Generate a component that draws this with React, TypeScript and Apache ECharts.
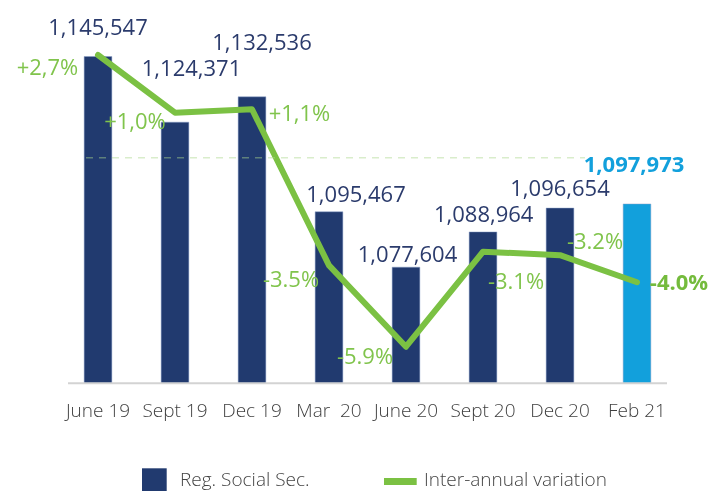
import React, { useEffect, useRef } from "react";
import * as echarts from "echarts";

const categories = ["June 19", "Sept 19", "Dec 19", "Mar  20", "June 20", "Sept 20", "Dec 20", "Feb 21"];
const registered = [1145547, 1124371, 1132536, 1095467, 1077604, 1088964, 1096654, 1097973];
const variation = [2.7, 1.0, 1.1, -3.5, -5.9, -3.1, -3.2, -4.0];
const variationLabels = ["+2,7%", "+1,0%", "+1,1%", "-3.5%", "-5.9%", "-3.1%", "-3.2%", "-4.0%"];
const seriesNames = ["Reg. Social Sec.", "Inter-annual variation"];

// layout only (label offsets in px)
const barLabelOffsets = [[0, -30], [16.5, -54.5], [10, -55], [27, -18], [1.5, -14], [0.7, -18.7], [0, -20.7], [-3, -41]];
const lineLabelOffsets = [[-50.5, 11], [-40, 7.5], [47.5, 3], [-38, 13], [-41, 8], [33, 28], [35, -15], [42, -1]];

const NAVY = "#213a6f";
const BLUE = "#12a0dc";
const GREEN = "#7bc143";
const FONT = "'Open Sans', sans-serif";

export default function App() {
  const ref = useRef<HTMLDivElement>(null);
  useEffect(() => {
    if (!ref.current) return;
    const chart = echarts.init(ref.current, undefined, { renderer: "svg" });
    const last = registered.length - 1;
    chart.setOption({
      animation: false,
      textStyle: { fontFamily: FONT },
      grid: { left: 59.5, width: 616, top: 42.3, height: 341, containLabel: false },
      xAxis: {
        type: "category",
        data: categories,
        axisLine: { show: false },
        axisTick: { show: false },
        axisLabel: { color: "#3f3f3f", fontSize: 19, fontWeight: 300, fontFamily: FONT, margin: 17, interval: 0 },
      },
      yAxis: [
        { type: "value", min: 1040000, max: 1150000, show: false },
        { type: "value", min: -6.978, max: 3.075, show: false },
      ],
      series: [
        {
          name: seriesNames[0],
          type: "bar",
          barWidth: 28.5,
          data: registered.map((v, i) => ({
            value: v,
            itemStyle: { color: i === last ? BLUE : NAVY },
            label: {
              offset: barLabelOffsets[i],
              color: i === last ? BLUE : "#2b3b6c",
              fontWeight: i === last ? "bold" : 400,
            },
          })),
          itemStyle: { borderColor: "rgba(140,160,200,0.6)", borderWidth: 0.8 },
          label: {
            show: true,
            position: "top",
            distance: 0,
            verticalAlign: "middle",
            align: "center",
            fontSize: 22,
            fontFamily: FONT,
            formatter: (p: any) => Number(p.value).toLocaleString("en-US"),
          },
        },
        {
          name: seriesNames[1],
          type: "line",
          yAxisIndex: 1,
          z: 5,
          symbol: "circle",
          symbolSize: 1,
          showSymbol: true,
          itemStyle: { color: GREEN },
          lineStyle: { color: GREEN, width: 6, cap: "round", join: "round" },
          data: variation.map((v, i) => ({
            value: v,
            label: {
              offset: lineLabelOffsets[i],
              fontWeight: i === last ? "bold" : 400,
              color: i === last ? "#74bb3c" : "#80c44c",
            },
          })),
          label: {
            show: true,
            position: "inside",
            align: "center",
            verticalAlign: "middle",
            fontSize: 22,
            fontFamily: FONT,
            formatter: (p: any) => variationLabels[p.dataIndex],
          },
        },
      ],
      graphic: [
        {
          type: "line",
          shape: { x1: 68, y1: 383.3, x2: 667, y2: 383.3 },
          style: { stroke: "#d3d3d3", lineWidth: 2 },
          z: 10,
        },
        {
          type: "line",
          shape: { x1: 86, y1: 157.7, x2: 585, y2: 157.7 },
          style: { stroke: "rgba(170,215,140,0.45)", lineWidth: 1.5, lineDash: [7, 6] },
          z: 10,
        },
        {
          type: "rect",
          shape: { x: 142, y: 468.3, width: 24.7, height: 24 },
          style: { fill: NAVY },
        },
        {
          type: "text",
          x: 180,
          y: 478.5,
          style: { text: seriesNames[0], fill: "#444", fontSize: 19, fontWeight: 300, fontFamily: FONT, verticalAlign: "middle" },
        },
        {
          type: "rect",
          shape: { x: 384, y: 478, width: 32.7, height: 7 },
          style: { fill: GREEN },
        },
        {
          type: "text",
          x: 424,
          y: 478.5,
          style: { text: seriesNames[1], fill: "#444", fontSize: 19, fontWeight: 300, fontFamily: FONT, verticalAlign: "middle" },
        },
      ],
    });
    return () => chart.dispose();
  }, []);
  return <div ref={ref} style={{ position: "fixed", left: 0, top: 0, width: 724, height: 491 }} />;
}
